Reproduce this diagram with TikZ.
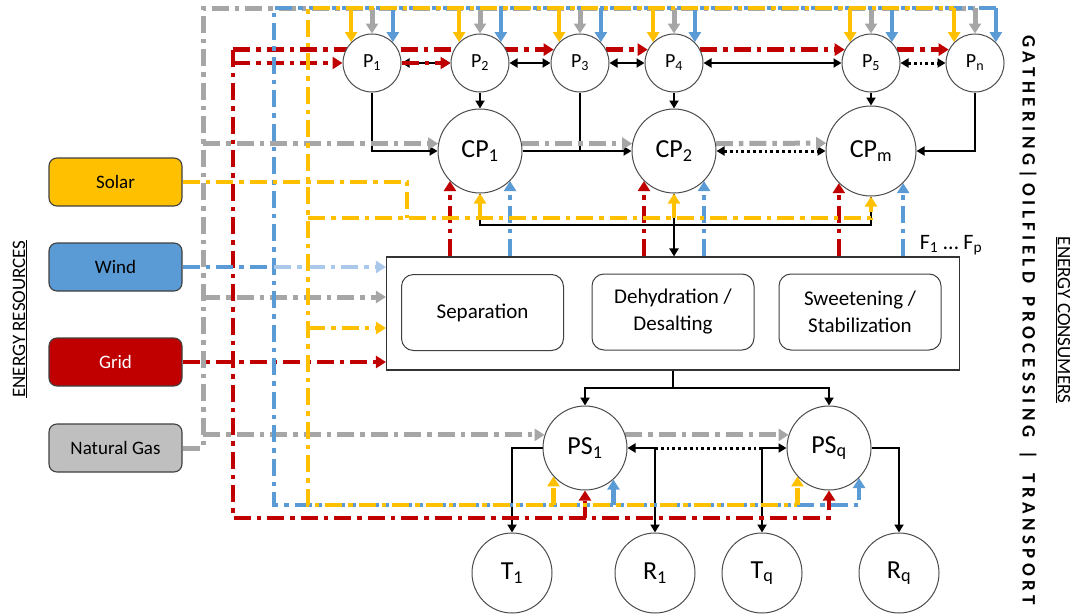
\documentclass[tikz,border=0pt]{standalone}
\usepackage{fontspec}
\setmainfont{Carlito}
\usetikzlibrary{arrows.meta,backgrounds}
\definecolor{solar}{HTML}{FFC000}
\definecolor{wind}{HTML}{5B9BD5}
\definecolor{windlt}{HTML}{A9C8EA}
\definecolor{grid}{HTML}{C00000}
\definecolor{gas}{HTML}{A6A6A6}
\definecolor{gasfill}{HTML}{BFBFBF}
\begin{document}
\begin{tikzpicture}[x=1pt,y=-1pt,
  pc/.style={circle, draw=black!70, line width=1pt, fill=white, inner sep=0pt,
    minimum size=58pt, font=\fontsize{20}{24}\selectfont},
  bc/.style={pc, minimum size=84pt, font=\fontsize{26}{30}\selectfont},
  tc/.style={pc, minimum size=80pt, font=\fontsize{26}{30}\selectfont},
  srcbox/.style={draw=black!75, line width=1.1pt, rounded corners=8pt,
    minimum width=133pt, minimum height=48pt, font=\fontsize{19}{22}\selectfont},
  unitbox/.style={draw=black!75, line width=1pt, rounded corners=12pt, fill=white,
    minimum width=162pt, minimum height=76pt, align=center, font=\fontsize{21}{27}\selectfont},
  dd/.style={dash pattern=on 17pt off 6pt on 4.5pt off 6pt},
  gasln/.style={dd, draw=gas, line width=5pt},
  gridln/.style={dd, draw=grid, line width=4.6pt},
  windln/.style={dd, draw=wind, line width=4.2pt},
  solarln/.style={dd, draw=solar, line width=4.4pt},
  ctip/.style={-{Triangle[width=12pt,length=10pt]}},
  blk/.style={draw=black, line width=2.8pt},
  btip/.style={-{Triangle[width=9pt,length=8pt]}},
  bboth/.style={{Triangle[width=9pt,length=8pt]}-{Triangle[width=9pt,length=8pt]}},
  dotl/.style={dash pattern=on 2.8pt off 3pt, line width=3pt},
]
\useasboundingbox (0,0) rectangle (1083,613);

% energy resources
\node[srcbox, fill=solar] (Solar) at (115.5,182) {Solar};
\node[srcbox, fill=wind] (Wind) at (115.5,267) {Wind};
\node[srcbox, fill=grid, text=white] (Grid) at (115.5,362) {Grid};
\node[srcbox, fill=gasfill] (NG) at (115.5,448) {Natural Gas};
\node[rotate=90, font=\fontsize{19}{22}\selectfont] (er) at (20,319) {\underline{ENERGY RESOURCES}};

% gathering: producers and collection points
\node[pc] (P1) at (372,63) {P\textsubscript{1}};
\node[pc] (P2) at (480,63) {P\textsubscript{2}};
\node[pc] (P3) at (580,63) {P\textsubscript{3}};
\node[pc] (P4) at (674,63) {P\textsubscript{4}};
\node[pc] (P5) at (871,63) {P\textsubscript{5}};
\node[pc] (Pn) at (975,63) {P\textsubscript{n}};
\node[bc] (CP1) at (480,151) {CP\textsubscript{1}};
\node[bc] (CP2) at (674,151) {CP\textsubscript{2}};
\node[bc, minimum size=90pt] (CPm) at (871,151) {CP\textsubscript{m}};

% oilfield processing
\node[draw=black!80, line width=1.1pt, fill=white, minimum width=573pt, minimum height=113pt, inner sep=0pt] (box) at (673,313.5) {};
\node[unitbox] (sep) at (482.5,312.5) {Separation};
\node[unitbox] (dehy) at (673,312) {Dehydration /\\Desalting};
\node[unitbox] (sweet) at (860,312) {Sweetening /\\Stabilization};
\node[font=\fontsize{22}{26}\selectfont] (F) at (951,245) {F\textsubscript{1} … F\textsubscript{p}};

% transport
\node[bc] (PS1) at (585,448) {PS\textsubscript{1}};
\node[bc] (PSq) at (829,448) {PS\textsubscript{q}};
\node[tc] (T1) at (512,573) {T\textsubscript{1}};
\node[tc] (R1) at (655,573) {R\textsubscript{1}};
\node[tc] (Tq) at (762,573) {T\textsubscript{q}};
\node[tc] (Rq) at (899,573) {R\textsubscript{q}};

% side labels
\node[rotate=-90, font=\bfseries\fontsize{19}{22}\selectfont] (stages) at (1028,320)
  {\makebox[570pt]{G\hfill A\hfill T\hfill H\hfill E\hfill R\hfill I\hfill N\hfill G\hfill |\hfill O\hfill I\hfill L\hfill F\hfill I\hfill E\hfill L\hfill D\hfill\hfill\hfill P\hfill R\hfill O\hfill C\hfill E\hfill S\hfill S\hfill I\hfill N\hfill G\hfill\hfill\hfill |\hfill\hfill\hfill T\hfill R\hfill A\hfill N\hfill S\hfill P\hfill O\hfill R\hfill T}};
\node[rotate=-90, font=\fontsize{19}{22}\selectfont] (ec) at (1063,320) {\underline{ENERGY CONSUMERS}};

% bus corners
\coordinate (gT) at (203,8);
\coordinate (gB) at (203,448);
\coordinate (rT) at (233,50);
\coordinate (rB) at (233,518);
\coordinate (bT) at (274,8);
\coordinate (bB) at (274,505);
\coordinate (yT) at (308,8);
\coordinate (yB) at (308,505);
\coordinate (yc) at (308,218);
\coordinate (sc) at (407,218);
\coordinate (g2) at (203,297);
\coordinate (y2) at (308,328);
\coordinate (kb) at (0,225);
\coordinate (kb2) at (0,388);

\begin{pgfonlayer}{background}
% black material flows
\draw[blk,bboth] (P1.east) -- (P2.west);
\draw[blk,bboth] (P2.east) -- (P3.west);
\draw[blk,bboth] (P3.east) -- (P4.west);
\draw[blk,bboth] (P4.east) -- (P5.west);
\draw[blk,bboth,dotl] (P5.east) -- (Pn.west);
\draw[blk,btip] (P1.south) |- (CP1.west);
\draw[blk,btip] (P2.south) -- (CP1.north);
\draw[blk] (P3.south) -- (P3.south |- CP1.east);
\draw[blk,btip] (CP1.east) -- (CP2.west);
\draw[blk,btip] (P4.south) -- (CP2.north);
\draw[blk,btip] (P5.south) -- (CPm.north);
\draw[blk,btip] (Pn.south) |- (CPm.east);
\draw[blk,bboth,dotl] (CP2.east) -- (CPm.west);
\draw[blk] (CP1.south) -- (CP1.south |- kb) -- (CPm.south |- kb) -- (CPm.south);
\draw[draw=black, line width=1.2pt] (CP2.south) -- (CP2.south |- kb);
\draw[blk,btip] (CP2.south |- kb) -- (CP2.south |- box.north);
\draw[blk] (box.south) -- (box.south |- kb2);
\draw[blk,btip] (box.south |- kb2) -| (PS1.north);
\draw[blk,btip] (box.south |- kb2) -| (PSq.north);
\draw[blk,btip] (PS1.west) -| (T1.north);
\draw[blk,bboth] (PS1.east) -| (R1.north);
\draw[blk,bboth] (PSq.west) -| (Tq.north);
\draw[blk,btip] (PSq.east) -| (Rq.north);
\draw[blk,dotl] (R1.north |- PS1.east) -- (Tq.north |- PSq.west);

% natural gas
\draw[gasln] (NG.east) -- (gB) -- (gT) -- (Pn.north |- gT);
\foreach \p in {P1,P2,P3,P4,P5,Pn} \draw[gasln,solid,ctip] (\p.north |- gT) -- (\p.north);
\draw[gasln,ctip] (gT |- CP1.170) -- (CP1.170);
\draw[gasln,ctip] (CP1.10) -- (CP2.170);
\draw[gasln,ctip] (CP2.10) -- (CPm.170);
\draw[gasln,ctip] (g2) -- (g2 -| box.west);
\draw[gasln,ctip] (gT |- PS1.162) -- (PS1.162);
\draw[gasln,ctip] (PS1.18) -- (PSq.162);

% grid
\draw[gridln,ctip] (rT |- P3.153) -- (P3.153);
\draw[gridln,ctip] (rT |- P3.153) -- (rB) -| (PSq.south);
\draw[gridln,ctip] (rT |- P1.west) -- (P1.west);
\draw[gridln,ctip] (P1.east) -- (P2.west);
\draw[gridln,ctip] (P3.27) -- (P4.153);
\draw[gridln,ctip] (P4.27) -- (P5.153);
\draw[gridln,ctip] (P5.27) -- (Pn.153);
\draw[gridln,ctip] (PS1.south |- rB) -- (PS1.south);
\foreach \c in {CP1,CP2,CPm} \draw[gridln,ctip] (\c.-135 |- box.north) -- (\c.-135);
\draw[gridln,ctip] (Grid.east) -- (box.west |- Grid.east);

% wind
\draw[windln,ctip] (Pn.45 |- bT) -- (bT) -- (bB) -| (PSq.-45);
\foreach \p in {P1,P2,P3,P4,P5,Pn} \draw[windln,solid,ctip] (\p.45 |- bT) -- (\p.45);
\draw[windln,ctip] (PS1.-48 |- bB) -- (PS1.-48);
\foreach \c in {CP1,CP2,CPm} \draw[windln,ctip] (\c.-45 |- box.north) -- (\c.-45);
\draw[windln] (Wind.east) -- (bT |- Wind.east);
\draw[windln,draw=windlt,ctip] (bT |- Wind.east) -- (box.west |- Wind.east);

% solar
\draw[solarln,dash phase=12pt] (Pn.135 |- yT) -- (yT) -- (yB) -- (PSq.-138 |- yB);
\draw[solarln,ctip] (PSq.-138 |- yB) -- (PSq.-138);
\foreach \p in {P1,P2,P3,P4,P5,Pn} \draw[solarln,solid,ctip] (\p.135 |- yT) -- (\p.135);
\draw[solarln,ctip] (PS1.-138 |- yB) -- (PS1.-138);
\draw[solarln,ctip] (yc) -| (CPm.south);
\draw[solarln,ctip] (CP1.south |- yc) -- (CP1.south);
\draw[solarln,ctip] (CP2.south |- yc) -- (CP2.south);
\draw[solarln] (Solar.east) -- (Solar.east -| sc) -- (sc);
\draw[solarln,ctip] (y2) -- (y2 -| box.west);
\end{pgfonlayer}
\end{tikzpicture}
\end{document}
